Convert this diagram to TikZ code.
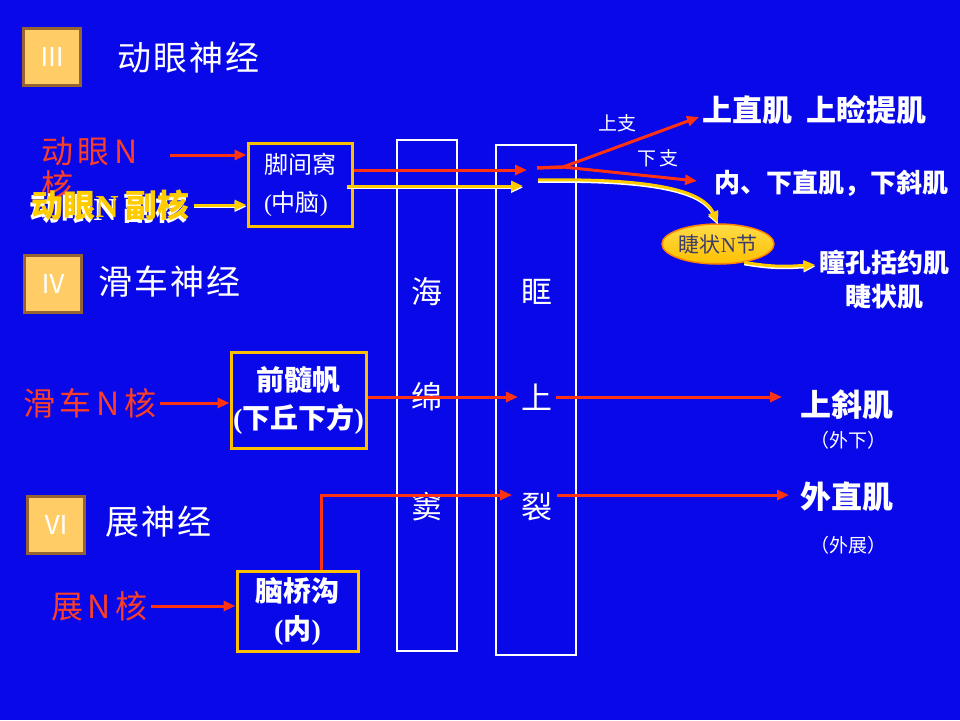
\documentclass[tikz,border=0pt]{standalone}
\usepackage{fontspec}
\setmainfont{Liberation Serif}
\newfontfamily\cjk{Noto Sans CJK SC}
\newfontfamily\cjkwide[LetterSpace=6]{Noto Sans CJK SC}
\newfontfamily\cjkwider[LetterSpace=14]{Noto Sans CJK SC}
\usetikzlibrary{arrows.meta,shapes.geometric}
\definecolor{slidebg}{RGB}{8,8,232}
\definecolor{nred}{RGB}{255,51,17}
\definecolor{lred}{RGB}{250,62,40}
\definecolor{ngold}{RGB}{255,192,0}
\definecolor{nyellow}{RGB}{255,204,0}
\definecolor{tanbox}{RGB}{255,204,102}
\definecolor{tanedge}{RGB}{150,100,50}
\definecolor{gangtext}{RGB}{60,60,110}

\begin{document}
\begin{tikzpicture}[x=1pt,y=-1pt,
  numbox/.style={draw=tanedge,line width=3pt,fill=tanbox,minimum size=57pt,inner sep=0pt,text=white,font=\cjk\fontsize{26}{26}\selectfont},
  nervetitle/.style={anchor=west,text=white,font=\cjkwide\fontsize{34}{34}\selectfont},
  nucleus/.style={anchor=west,text=lred,font=\cjkwider\fontsize{32}{34}\selectfont,align=left},
  acclabel/.style={anchor=west,font=\cjk\bfseries\fontsize{32}{32}\selectfont},
  goldbox/.style={draw=ngold,line width=3pt,text=white,align=center,inner sep=0pt},
  tallbox/.style={draw=white,line width=2.5pt,inner sep=0pt},
  colchar/.style={text=white,font=\cjk\fontsize{31}{31}\selectfont},
  muscle/.style={anchor=west,text=white,font=\cjk\bfseries\fontsize{31}{31}\selectfont},
  smalltext/.style={text=white,font=\cjk\fontsize{19}{19}\selectfont},
  redarrow/.style={draw=nred,line width=3pt,-{Triangle[length=12pt,width=10pt]}},
  yelarrow/.style={draw=nyellow,line width=3pt,-{Triangle[length=12pt,width=10pt]},
    preaction={draw=white,line width=3pt,transform canvas={yshift=-1.5pt}}}]
\fill[slidebg] (0,0) rectangle (960,720);
\useasboundingbox (0,0) rectangle (960,720);

\node[numbox] (n3) at (52,57) {Ⅲ};
\node[nervetitle] (t3) at (114,58) {动眼神经};
\node[numbox] (n4) at (53,284) {Ⅳ};
\node[nervetitle] (t4) at (95,282) {滑车神经};
\node[numbox] (n6) at (56,525) {Ⅵ};
\node[nervetitle] (t6) at (102,522) {展神经};

\node[nucleus] (cn3) at (38,169) {动眼N\\核};
\node[acclabel,text=white] (accsh) at (26,208) {动眼{\rmfamily N} 副核};
\node[acclabel,text=nyellow] (acc) at (28,205) {动眼{\rmfamily N} 副核};
\node[goldbox,minimum width=104pt,minimum height=83pt,font=\cjk\fontsize{24}{38}\selectfont,align=left] (jjw) at (300,184.5) {脚间窝\\{\rmfamily(}中脑{\rmfamily)}};
\coordinate (cn3out) at (170,155);
\draw[redarrow] (cn3out) -- (jjw.west |- cn3out);
\draw[yelarrow] (acc.east) -- (jjw.west |- acc.east);

\node[tallbox,minimum width=60pt,minimum height=511pt] (cs) at (427,395.5) {};
\node[tallbox,minimum width=80pt,minimum height=510pt] (sof) at (536,400) {};
\node[colchar] (cs1) at (427,292) {海};
\node[colchar] (cs2) at (427,397) {绵};
\node[colchar] (cs3) at (427,507) {窦};
\node[colchar] (sof1) at (537,292) {眶};
\node[colchar] (sof2) at (537,397) {上};
\node[colchar] (sof3) at (537,507) {裂};

\coordinate (r3in) at (527,170);
\coordinate (g3in) at (523,186);
\coordinate (dash) at (537,168);
\coordinate (fork) at (563,167);
\coordinate (g3out) at (538,180);
\draw[redarrow] (jjw.east |- r3in) -- (r3in);
\draw[yelarrow] ([xshift=-7pt]jjw.east |- g3in) -- (g3in);
\draw[nred,line width=3.5pt] (dash) -- (fork);
\node[muscle,font=\cjk\bfseries\fontsize{30}{30}\selectfont] (sr) at (699,110) {上直肌\ \ 上睑提肌};
\node[muscle,font=\cjk\bfseries\fontsize{26}{26}\selectfont] (ir) at (711,183) {内、下直肌，下斜肌};
\draw[redarrow] (fork) -- ([yshift=-7pt]sr.west);
\draw[redarrow] (fork) -- ([xshift=-14pt,yshift=2pt]ir.west);
\node[smalltext] (upbr) at (617,123) {上支};
\node[smalltext] (lowbr) at (658,158) {下\,支};
\node[ellipse,draw=orange,line width=1.5pt,top color=yellow!30!tanbox,bottom color=ngold,
  minimum width=112pt,minimum height=40pt,inner sep=0pt,text=gangtext,
  font=\cjk\fontsize{21}{21}\selectfont] (cg) at (718,244) {睫状{\rmfamily N}节};
\draw[yelarrow] (g3out) .. controls (660,178) and (704,192) .. (cg.north);
\node[muscle,anchor=center,align=center,font=\cjk\bfseries\fontsize{26}{34}\selectfont] (pup) at (884,280) {瞳孔括约肌\\睫状肌};
\draw[yelarrow] (cg.-35) .. controls (778,268) and (790,266) .. ([yshift=15pt]pup.west);

\node[nucleus] (cn4) at (20,403) {滑车N核};
\node[goldbox,minimum width=135pt,minimum height=96pt,font=\cjk\bfseries\fontsize{28}{38}\selectfont] (amv) at (298.5,400) {前髓帆\\{\rmfamily(}下丘下方{\rmfamily)}};
\draw[redarrow] (cn4.east) -- (amv.west |- cn4.east);
\draw[redarrow] (amv.east |- sof2.west) -- (sof2.west);
\node[muscle] (so) at (797,405) {上斜肌};
\node[smalltext] (so2) at (848,440) {（外下）};
\draw[redarrow] (sof2.east) -- ([xshift=-15pt]so.west |- sof2.east);

\node[nucleus] (cn6) at (48,606) {展N核};
\node[goldbox,minimum width=121pt,minimum height=80pt,font=\cjk\bfseries\fontsize{28}{38}\selectfont] (pbs) at (297.5,611) {脑桥沟\\{\rmfamily\bfseries(}内{\rmfamily\bfseries)}};
\draw[redarrow] (cn6.east) -- (pbs.west |- cn6.east);
\coordinate (r6in) at (512,495);
\coordinate (r6out) at (557,495);
\draw[redarrow] ([xshift=23.5pt]pbs.north) |- (r6in);
\node[muscle] (lr) at (797,497) {外直肌};
\node[smalltext] (lr2) at (848,545) {（外展）};
\draw[redarrow] (r6out) -- ([xshift=-8pt]lr.west |- r6out);
\end{tikzpicture}
\end{document}
